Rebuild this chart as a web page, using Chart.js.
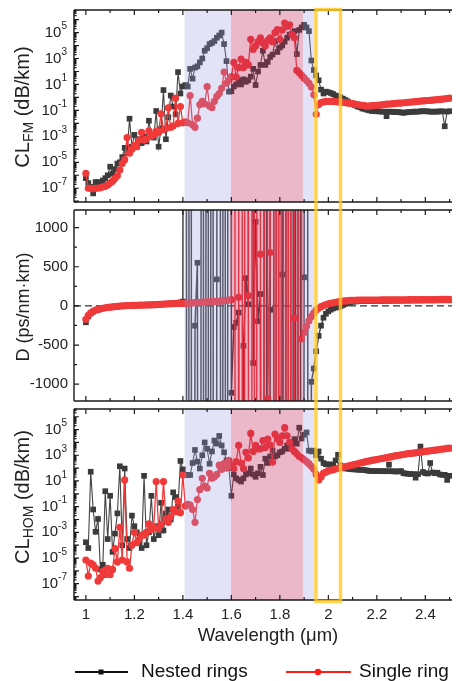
<!DOCTYPE html>
<html>
<head>
<meta charset="utf-8">
<title>Confinement loss and dispersion</title>
<script src="https://cdn.jsdelivr.net/npm/chart.js"></script>
<style>
  body { margin: 0; background: #fff; }
  #wrap { position: relative; width: 456px; height: 681px; }
  .panel { position: absolute; left: 0; width: 456px; }
</style>
</head>
<body>
<div id="wrap">
  <div class="panel" style="top:0;height:206px"><canvas id="fm"></canvas></div>
  <div class="panel" style="top:206px;height:199px"><canvas id="disp"></canvas></div>
  <div class="panel" style="top:405px;height:276px"><canvas id="hom"></canvas></div>
</div>

<script>
// wavelength grid (um)
const wavelength = [
  1.00,1.01,1.02,1.03,1.04,1.05,1.06,1.07,1.08,1.09,
  1.10,1.11,1.12,1.13,1.14,1.15,1.16,1.17,1.18,1.19,
  1.20,1.21,1.22,1.23,1.24,1.25,1.26,1.27,1.28,1.29,
  1.30,1.31,1.32,1.33,1.34,1.35,1.36,1.37,1.38,1.39,
  1.40,1.41,1.42,1.43,1.44,1.45,1.46,1.47,1.48,1.49,
  1.50,1.51,1.52,1.53,1.54,1.55,1.56,1.57,1.58,1.59,
  1.60,1.61,1.62,1.63,1.64,1.65,1.66,1.67,1.68,1.69,
  1.70,1.71,1.72,1.73,1.74,1.75,1.76,1.77,1.78,1.79,
  1.80,1.81,1.82,1.83,1.84,1.85,1.86,1.87,1.88,1.89,
  1.90,1.91,1.92,1.93,1.94,1.95,1.96,1.97,1.98,1.99,
  2.00,2.01,2.02,2.03,2.04,2.05,2.06,2.07,2.08,2.09,
  2.10,2.11,2.12,2.13,2.14,2.15,2.16,2.17,2.18,2.19,
  2.20,2.21,2.22,2.23,2.24,2.25,2.26,2.27,2.28,2.29,
  2.30,2.31,2.32,2.33,2.34,2.35,2.36,2.37,2.38,2.39,
  2.40,2.41,2.42,2.43,2.44,2.45,2.46,2.47,2.48,2.49,
  2.50
];

// CL_FM (dB/km)
const clFmNested = [
  6e-7,2.5e-7,1.3e-7,4e-8,3e-7,3e-7,2.5e-7,4e-7,6e-7,1e-6,
  4.6e-6,1.3e-6,3e-6,8e-6,1e-5,2.5e-5,1.3e-4,5e-5,2.3e-2,1.6e-4,
  1.3e-3,1.6e-4,6e-4,3e-4,1e-3,4e-4,1.6e-2,1.3e-3,8e-4,9e-2,
  1.6e-4,4e-3,3.7,6e-4,3e-2,1.4,0.2,5e-2,90,2,
  7,9,7,160,28,200,250,500,1000,4000,
  6300,1.3e4,1.6e4,2.2e4,4e4,6e4,1e5,1.3e4,630,2.8,
  3,7,10,21,10,25,16,21,40,160,
  9,100,320,4000,320,550,1300,2000,2.2e4,3200,
  7000,1e4,2e4,4e4,7e4,8e4,1.3e5,2200,1.6e5,2.5e5,
  4e5,2.5e5,1.3e5,700,130,50,21,4,2,2.8,
  2.5,2.2,1.8,1.4,1.2,1,0.8,0.63,0.5,0.37,
  0.32,0.25,0.2,0.18,0.14,0.13,0.11,0.1,0.09,0.09,
  0.085,0.085,0.08,0.08,0.036,0.08,0.08,0.075,0.075,0.075,
  0.07,0.065,0.07,0.075,0.075,0.08,0.08,0.08,0.085,0.087,
  0.085,0.085,0.08,0.08,0.08,0.08,0.085,0.085,6e-3,0.08,
  0.087
];
const clFmSingle = [
  1.4e-6,1e-7,1e-7,9e-8,1e-7,1e-7,1.1e-7,1.3e-7,1.4e-7,1.8e-7,
  2.5e-7,3.5e-7,5.6e-7,9e-7,2.5e-6,8e-6,1.6e-5,8e-4,5e-5,1e-4,
  2e-4,1.6e-4,5e-4,2e-3,5e-4,6.3e-4,2.7e-3,1e-3,1.3e-3,2.5e-3,
  2e-3,5.5e-2,3.2e-3,4e-3,0.16,5e-3,6.3e-3,0.87,1e-2,0.2,
  1.1e-2,1.3e-2,1.1e-2,1.4,8e-3,5e-3,2.5e-2,0.28,0.5,0.32,
  6.8,0.22,0.16,0.5,1.2,2,5,90,12.6,21,
  40,500,38,200,900,200,500,320,3e4,5000,
  9300,2e4,4e4,1.6e4,9300,2.5e4,4e4,2e4,1e5,1.7e5,
  3e4,1.6e5,5.4e5,3e5,4e5,7e4,4e4,120,80,50,
  32,20,12.6,6.3,1.6,0.05,0.28,0.4,0.45,0.5,
  0.5,0.5,0.5,0.48,0.46,0.45,0.42,0.4,0.37,0.35,
  0.33,0.3,0.28,0.26,0.25,0.23,0.21,0.22,0.23,0.24,
  0.25,0.26,0.27,0.28,0.3,0.31,0.32,0.33,0.35,0.36,
  0.37,0.39,0.4,0.42,0.44,0.46,0.48,0.5,0.52,0.54,
  0.56,0.58,0.6,0.62,0.65,0.68,0.7,0.74,0.78,0.82,
  0.87
];

// D (ps/nm.km), +-3e4 = off scale
const dNested = [
  -210,-135,-95,-72,-57,-46,-38,-31,-26,-21,
  -17,-13,-10,-7,-4,-2,0,2,4,5,
  7,8,9,10,11,13,14,15,17,18,
  20,22,24,26,28,30,33,36,40,45,
  55,3e4,-3e4,3e4,-3e4,-253,551,-3e4,3e4,-3e4,
  3e4,-3e4,3e4,-3e4,339,3e4,-3e4,3e4,-3e4,3e4,
  -1110,-270,-216,-86,-3e4,-510,355,20,3e4,-730,
  1075,-196,151,-3e4,3e4,-3e4,-49,3e4,-3e4,3e4,
  -3e4,400,3e4,-3e4,3e4,-3e4,3e4,-3e4,3e4,-3e4,
  365,3e4,-3e4,-970,-800,-580,-383,-253,-151,-100,
  -70,-48,-32,-22,-15,-5,10,25,35,45,
  52,56,59,61,62,63,64,64,65,65,
  66,66,66,67,67,67,68,68,68,68,
  69,69,69,69,70,70,70,70,70,71,
  71,71,71,71,71,72,72,72,72,72,
  72
];
const dSingle = [
  -171,-120,-90,-70,-55,-45,-37,-30,-25,-20,
  -16,-12,-9,-6,-3,-1,1,3,5,6,
  7,8,9,10,11,12,13,14,16,17,
  19,20,22,23,25,26,28,29,30,31,
  32,33,35,37,39,41,43,45,47,49,
  51,53,55,57,59,62,65,68,71,74,
  80,3e4,-3e4,110,3e4,-3e4,3e4,131,-3e4,3e4,
  -3e4,3e4,661,-3e4,3e4,-1187,682,3e4,-3e4,3e4,
  -3e4,3e4,-3e4,3e4,-3e4,3e4,-155,-3e4,3e4,-420,
  -340,-260,-190,-135,-90,-55,-30,-10,5,18,
  27,33,40,46,52,57,61,64,67,70,
  72,72,73,73,73,74,74,74,75,75,
  75,75,76,76,76,77,77,77,77,78,
  78,78,78,79,79,79,79,80,80,80,
  80,81,81,81,81,81,82,82,82,82,
  82
];

// CL_HOM (dB/km)
const clHomNested = [
  1.7e-4,6e-5,52,0.06,1.1e-3,1.1e-2,1.3e-6,3e-6,1.6,3e-4,
  0.7,3e-5,8e-4,3e-2,140,1e-4,93,3e-4,6e-5,2e-2,
  3e-3,1e-3,1.6e-4,6e-5,25,1e-4,1e-3,0.7,3e-4,3e-3,
  6e-4,0.2,1.4e-3,3e-2,0.06,1e-2,1.3,0.56,0.1,360,
  80,29,30,29,250,2600,320,93,1000,1e4,
  3200,220,2000,1.4e4,8000,3.2e4,5800,1700,400,100,
  0.7,32,16,12,9,16,32,40,93,32,
  21,40,126,29,540,250,800,2300,800,1000,
  1700,2000,3200,5800,3200,8000,1.8e4,8000,1.4e5,2e4,
  4e4,6e4,2300,2000,2300,1000,2000,540,250,200,
  190,190,190,400,1100,160,100,95,90,85,
  80,80,75,75,72,70,65,60,60,59,
  58,58,58,57,57,190,57,56,55,55,
  59,40,38,36,35,34,18,34,4800,50,
  40,38,250,45,40,44,32,30,30,12,
  25
];
const clHomSingle = [
  7e-6,4e-7,4e-6,3e-6,1.6e-6,1.6e-7,3e-7,9e-7,5e-7,1.6e-6,
  5e-7,1.3e-6,5.5e-5,5e-6,2.5e-3,7e-6,12,5e-6,1.6e-6,1e-4,
  1e-3,1.6e-4,3e-4,6e-4,6e-4,1e-3,4.5e-3,1.6e-3,2.5e-3,9,
  1.9e-3,4e-3,9,1.1e-2,6e-3,1.6e-2,6e-2,4e-2,0.27,3.4e-2,
  29,0.11,0.15,0.13,6e-2,6e-3,0.36,2.1,16,4,
  2.8,39,16,21,32,170,80,220,100,400,
  160,93,320,5800,250,93,1700,630,5e4,2000,
  5800,3200,3200,1.4e4,4000,1.8e4,6300,300,4.4e4,2e4,
  1e4,3.2e4,1.4e5,3.3e4,1e4,3200,2000,1300,800,630,
  450,320,220,140,80,32,12,20,40,50,
  60,68,76,85,95,105,117,129,145,158,
  178,200,219,245,269,302,339,363,398,437,
  468,513,562,603,661,708,776,851,933,1000,
  1100,1150,1230,1320,1380,1480,1550,1660,1780,1860,
  2000,2090,2240,2400,2510,2690,2820,3020,3160,3390,
  3550
];

// axes
const xTicks = [1, 1.2, 1.4, 1.6, 1.8, 2, 2.2, 2.4];
const xMinor = [1.1, 1.3, 1.5, 1.7, 1.9, 2.1, 2.3, 2.5];
const logLabelExps = [-7, -5, -3, -1, 1, 3, 5];
const dTicks = [-1000, -500, 0, 500, 1000];
const dMinor = [-750, -250, 250, 750];

// highlighted bands
const blueBands = [[1.407, 1.598], [1.895, 1.942]];
const pinkBand = [1.598, 1.895];
const focusBox = [1.949, 2.05];

const FONT = "'Liberation Sans', Arial, sans-serif";
const RED = '#f03a3a';
const DARK = '#3b3b3b';
Chart.defaults.font.family = FONT;

function pts(ys) {
  return wavelength.map((x, i) => ({ x: x, y: ys[i] }));
}

function nestedSet(ys, lw) {
  return {
    label: 'Nested rings', data: pts(ys),
    borderColor: '#444', borderWidth: lw || 1.1,
    pointStyle: 'rect', pointRadius: 4, pointBorderWidth: 0,
    pointBackgroundColor: DARK, backgroundColor: DARK
  };
}
function singleSet(ys, lw) {
  return {
    label: 'Single ring', data: pts(ys),
    borderColor: RED, borderWidth: lw || 1.3,
    pointStyle: 'circle', pointRadius: 3.6, pointBorderWidth: 0,
    pointBackgroundColor: RED, backgroundColor: RED
  };
}

function shade(chart) {
  const { ctx, chartArea: a, scales: { x } } = chart;
  ctx.save();
  ctx.fillStyle = 'rgba(150,150,230,0.27)';
  blueBands.forEach(b => {
    const p1 = x.getPixelForValue(b[0]), p2 = x.getPixelForValue(b[1]);
    ctx.fillRect(p1, a.top, p2 - p1, a.bottom - a.top);
  });
  ctx.fillStyle = 'rgba(190,40,90,0.33)';
  const q1 = x.getPixelForValue(pinkBand[0]), q2 = x.getPixelForValue(pinkBand[1]);
  ctx.fillRect(q1, a.top, q2 - q1, a.bottom - a.top);
  ctx.restore();
}

function frame(chart, kind) {
  const { ctx, chartArea: a, scales: { x, y } } = chart;
  ctx.save();
  ctx.strokeStyle = '#1a1a1a';
  ctx.lineWidth = 1.4;
  ctx.beginPath();
  ctx.moveTo(a.left, a.top); ctx.lineTo(a.left, a.bottom);
  ctx.moveTo(a.left, a.top); ctx.lineTo(a.right, a.top);
  ctx.moveTo(a.left, a.bottom); ctx.lineTo(a.right, a.bottom);
  ctx.stroke();
  ctx.lineWidth = 1.2;
  ctx.beginPath();
  const xt = (v, len) => {
    const p = x.getPixelForValue(v);
    ctx.moveTo(p, a.top); ctx.lineTo(p, a.top + len);
    ctx.moveTo(p, a.bottom); ctx.lineTo(p, a.bottom - len);
  };
  xTicks.forEach(v => xt(v, 5));
  xMinor.forEach(v => xt(v, 3));
  const yt = (v, len) => {
    const p = y.getPixelForValue(v);
    if (p < a.top || p > a.bottom) return;
    ctx.moveTo(a.left, p); ctx.lineTo(a.left + len, p);
  };
  if (kind === 'disp') {
    dTicks.forEach(v => yt(v, 5));
    dMinor.forEach(v => yt(v, 3));
  } else {
    for (let e = -9; e <= 7; e++) {
      yt(Math.pow(10, e), 5);
      for (let m = 2; m <= 9; m++) yt(m * Math.pow(10, e), 2.5);
    }
  }
  ctx.stroke();
  ctx.restore();
}

function powLabel(ctx, xr, y, e) {
  const sup = e < 0 ? '-' + (-e) : String(e);
  ctx.font = '10px ' + FONT;
  const w = ctx.measureText(sup).width;
  ctx.textAlign = 'left';
  ctx.textBaseline = 'middle';
  ctx.fillText(sup, xr - w, y - 6);
  ctx.font = '15px ' + FONT;
  ctx.textAlign = 'right';
  ctx.fillText('10', xr - w, y);
}

function yTitle(ctx, cx, cy, parts) {
  ctx.save();
  ctx.translate(cx, cy);
  ctx.rotate(-Math.PI / 2);
  let total = 0;
  parts.forEach(p => {
    ctx.font = p.size + 'px ' + FONT;
    p.w = ctx.measureText(p.t).width;
    total += p.w;
  });
  let px = -total / 2;
  ctx.textAlign = 'left';
  ctx.textBaseline = 'alphabetic';
  parts.forEach(p => {
    ctx.font = p.size + 'px ' + FONT;
    ctx.fillText(p.t, px, 7 + (p.dy || 0));
    px += p.w;
  });
  ctx.restore();
}

function labels(chart, kind) {
  const { ctx, scales: { y } } = chart;
  ctx.save();
  ctx.fillStyle = '#222';
  if (kind === 'disp') {
    ctx.font = '15px ' + FONT;
    ctx.textAlign = 'right';
    ctx.textBaseline = 'middle';
    dTicks.forEach(v => ctx.fillText(String(v), 68, y.getPixelForValue(v)));
    yTitle(ctx, 22, 101, [{ t: 'D (ps/nm\u00b7km)', size: 18 }]);
  } else {
    logLabelExps.forEach(e => powLabel(ctx, 67, y.getPixelForValue(Math.pow(10, e)), e));
    if (kind === 'fm') {
      yTitle(ctx, 22, 107, [{ t: 'CL', size: 20 }, { t: 'FM', size: 14, dy: 4 }, { t: ' (dB/km)', size: 20 }]);
    } else {
      yTitle(ctx, 22, 92, [{ t: 'CL', size: 20 }, { t: 'HOM', size: 14, dy: 4 }, { t: ' (dB/km)', size: 20 }]);
    }
  }
  ctx.restore();
}

function yellow(chart, kind) {
  const { ctx, chartArea: a, scales: { x } } = chart;
  const x1 = x.getPixelForValue(focusBox[0]), x2 = x.getPixelForValue(focusBox[1]);
  const H = chart.height;
  ctx.save();
  ctx.strokeStyle = 'rgba(255,202,40,0.82)';
  ctx.lineWidth = 3.5;
  ctx.lineJoin = 'miter';
  ctx.beginPath();
  if (kind === 'fm') {
    ctx.moveTo(x1, H + 2); ctx.lineTo(x1, a.top - 0.5); ctx.lineTo(x2, a.top - 0.5); ctx.lineTo(x2, H + 2);
  } else if (kind === 'disp') {
    ctx.moveTo(x1, -2); ctx.lineTo(x1, H + 2);
    ctx.moveTo(x2, -2); ctx.lineTo(x2, H + 2);
  } else {
    ctx.moveTo(x1, -2); ctx.lineTo(x1, a.bottom + 1.5); ctx.lineTo(x2, a.bottom + 1.5); ctx.lineTo(x2, -2);
  }
  ctx.stroke();
  ctx.restore();
}

function bottomText(chart) {
  const { ctx, scales: { x } } = chart;
  ctx.save();
  ctx.fillStyle = '#222';
  ctx.font = '15px ' + FONT;
  ctx.textAlign = 'center';
  ctx.textBaseline = 'middle';
  xTicks.forEach(v => ctx.fillText(String(v), x.getPixelForValue(v), 210));
  ctx.font = '18.5px ' + FONT;
  ctx.fillText('Wavelength (\u03bcm)', 268, 231);

  // legend
  const ly = 267;
  ctx.lineWidth = 2;
  ctx.strokeStyle = '#111';
  ctx.beginPath(); ctx.moveTo(75, ly); ctx.lineTo(128, ly); ctx.stroke();
  ctx.fillStyle = '#111';
  ctx.fillRect(98.5, ly - 2.5, 5, 5);
  ctx.strokeStyle = '#ff1a1a';
  ctx.beginPath(); ctx.moveTo(286, ly); ctx.lineTo(351, ly); ctx.stroke();
  ctx.fillStyle = '#ff1a1a';
  ctx.beginPath(); ctx.arc(318, ly, 3.2, 0, Math.PI * 2); ctx.fill();
  ctx.fillStyle = '#111';
  ctx.font = '19px ' + FONT;
  ctx.textAlign = 'left';
  ctx.fillText('Nested rings', 141, ly);
  ctx.fillText('Single ring', 359, ly);
  ctx.restore();
}

const decor = {
  id: 'decor',
  beforeDatasetsDraw(chart, args, o) {
    if (o.kind !== 'disp') return;
    const { ctx, chartArea: a, scales: { y } } = chart;
    const py = y.getPixelForValue(0);
    ctx.save();
    ctx.strokeStyle = '#333';
    ctx.lineWidth = 1.2;
    ctx.setLineDash([7, 4]);
    ctx.beginPath(); ctx.moveTo(a.left, py); ctx.lineTo(a.right, py); ctx.stroke();
    ctx.restore();
  },
  afterDatasetsDraw(chart, args, o) {
    shade(chart);
    frame(chart, o.kind);
    labels(chart, o.kind);
    yellow(chart, o.kind);
    if (o.kind === 'hom') bottomText(chart);
  }
};

function panel(id, kind, yScale, sets, pad) {
  return new Chart(document.getElementById(id), {
    type: 'line',
    data: { datasets: sets },
    options: {
      animation: false,
      responsive: true,
      maintainAspectRatio: false,
      events: [],
      layout: { padding: pad },
      scales: {
        x: { type: 'linear', min: 0.951, max: 2.51, display: false },
        y: Object.assign({ display: false }, yScale)
      },
      plugins: { legend: { display: false }, tooltip: { enabled: false }, decor: { kind: kind } }
    },
    plugins: [decor]
  });
}

panel('fm', 'fm', { type: 'logarithmic', min: 8.7e-9, max: 5.5e6 },
  [singleSet(clFmSingle), nestedSet(clFmNested)],
  { left: 74, right: 0, top: 10, bottom: 0 });

panel('disp', 'disp', { type: 'linear', min: -1215, max: 1225 },
  [singleSet(dSingle, 1.4), nestedSet(dNested, 1.5)],
  { left: 74, right: 0, top: 0, bottom: 0 });

panel('hom', 'hom', { type: 'logarithmic', min: 5.4e-9, max: 4e6 },
  [singleSet(clHomSingle), nestedSet(clHomNested)],
  { left: 74, right: 0, top: 0, bottom: 81 });
</script>
</body>
</html>
